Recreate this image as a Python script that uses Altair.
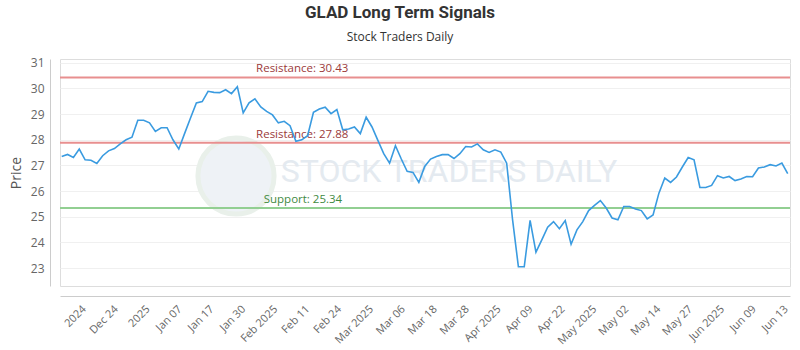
import altair as alt
import pandas as pd

prices = [
    27.35, 27.43, 27.31, 27.64, 27.22, 27.20, 27.08, 27.38, 27.57, 27.66,
    27.84, 28.00, 28.10, 28.76, 28.76, 28.66, 28.33, 28.47, 28.47, 28.00,
    27.64, 28.25, 28.85, 29.44, 29.49, 29.89, 29.85, 29.84, 29.95, 29.80,
    30.07, 29.05, 29.44, 29.60, 29.28, 29.11, 28.97, 28.66, 28.72, 28.55,
    27.94, 28.00, 28.16, 29.07, 29.20, 29.27, 29.02, 29.18, 28.39, 28.42,
    28.50, 28.24, 28.88, 28.50, 27.98, 27.46, 27.09, 27.77, 27.25, 26.77,
    26.73, 26.34, 26.96, 27.25, 27.35, 27.42, 27.42, 27.27, 27.46, 27.74,
    27.72, 27.84, 27.61, 27.51, 27.61, 27.52, 27.09, 24.90, 23.05, 23.05,
    24.86, 23.62, 24.10, 24.59, 24.81, 24.53, 24.85, 23.93, 24.49, 24.81,
    25.24, 25.44, 25.63, 25.34, 24.95, 24.88, 25.40, 25.40, 25.30, 25.24,
    24.92, 25.07, 25.92, 26.51, 26.34, 26.55, 26.94, 27.31, 27.22, 26.14,
    26.14, 26.22, 26.60, 26.51, 26.57, 26.41, 26.47, 26.57, 26.56, 26.90,
    26.94, 27.03, 26.98, 27.09, 26.68,
]

tick_labels = [
    "2024", "Dec 24", "2025", "Jan 07", "Jan 17", "Jan 30", "Feb 2025",
    "Feb 11", "Feb 24", "Mar 2025", "Mar 06", "Mar 18", "Mar 28", "Apr 2025",
    "Apr 09", "Apr 22", "May 2025", "May 02", "May 14", "May 27", "Jun 2025",
    "Jun 09", "Jun 13",
]

level_names = ["Resistance: 30.43", "Resistance: 27.88", "Support: 25.34"]
level_values = [30.43, 27.88, 25.34]
level_kinds = ["Resistance", "Resistance", "Support"]

y_ticks = [23, 24, 25, 26, 27, 28, 29, 30, 31]

# ---- tables built from the arrays above ----
df = pd.DataFrame({"i": list(range(len(prices))), "price": prices})
levels = pd.DataFrame({"label": level_names, "value": level_values, "kind": level_kinds})

# tick layout (index space) -- evenly spaced category labels
t0, tstep = 3.1, 5.45
tick_pos = [round(t0 + tstep * k, 3) for k in range(len(tick_labels))]
label_arr = "[" + ",".join("'" + s + "'" for s in tick_labels) + "]"
label_expr = f"{label_arr}[round((datum.value - {t0}) / {tstep})]"

x_scale = alt.Scale(domain=[-0.29, 124.39], nice=False, zero=False)
y_scale = alt.Scale(domain=[22.3, 31.15], nice=False, zero=False)

x_axis = alt.Axis(
    values=tick_pos, tickCount=100, labelExpr=label_expr, labelAngle=-45, grid=False,
    ticks=False, domainColor="#cccccc", offset=10, labelColor="#666666",
    labelFont="Open Sans", labelFontSize=11, labelPadding=7, title=None,
    labelOverlap=False, labelFlush=False,
)
y_axis = alt.Axis(
    values=y_ticks, tickCount=100, format=".0f", grid=True, gridColor="#f0f0f0",
    ticks=False, domainColor="#cccccc", offset=10, labelColor="#666666",
    labelFont="Open Sans", labelFontSize=12, labelPadding=6, labelOverlap=False,
    title="Price", titleFont="Open Sans", titleFontSize=14, titleFontWeight="normal",
    titleColor="#555555", titlePadding=7,
)

W, H = 730, 227

base_x = alt.X("i:Q", scale=x_scale, axis=x_axis)

# watermark
logo = alt.Chart(df).mark_point(
    shape="circle", filled=True, size=5800, fill="#eef2f6", stroke="#e9f0ea",
    strokeWidth=5, opacity=1,
).encode(x=alt.value(176), y=alt.value(117)).transform_filter("datum.i == 0")

watermark = alt.Chart(df).mark_text(
    text="STOCK TRADERS DAILY", font="Roboto",
    fontSize=32, color="#e4eaf0", align="center", baseline="middle",
).encode(x=alt.value(389), y=alt.value(113)).transform_filter("datum.i == 0")

grid = alt.Chart(df).mark_line(opacity=0).encode(
    x=base_x, y=alt.Y("price:Q", scale=y_scale, axis=y_axis)
)

rules = alt.Chart(levels).mark_rule(strokeWidth=2).encode(
    y=alt.Y("value:Q", scale=y_scale),
    color=alt.Color("kind:N", scale=alt.Scale(domain=["Resistance", "Support"],
                                              range=["#e88f8f", "#92cf92"]), legend=None),
)

level_text = alt.Chart(levels).mark_text(
    align="left", baseline="alphabetic", dy=-5, font="Open Sans", fontSize=11.5,
).transform_calculate(
    xpos="datum.kind == 'Support' ? 34.5 : 33.2"
).encode(
    x=alt.X("xpos:Q", scale=x_scale),
    y=alt.Y("value:Q", scale=y_scale),
    text="label:N",
    color=alt.Color("kind:N", scale=alt.Scale(domain=["Resistance", "Support"],
                                              range=["#9b3a3a", "#3f8a3f"]), legend=None),
)

line = alt.Chart(df).mark_line(color="#3a9be0", strokeWidth=1.6).encode(
    x=base_x, y=alt.Y("price:Q", scale=y_scale)
)

chart = alt.layer(logo, watermark, grid, rules, level_text, line).resolve_scale(
    color="independent"
).properties(
    width=W, height=H,
    title=alt.TitleParams(
        "GLAD Long Term Signals", subtitle="Stock Traders Daily", anchor="middle",
        dx=-25, font="Roboto", fontSize=17, fontWeight="bold", color="#333333",
        subtitleFont="Open Sans", subtitleFontSize=12, subtitleColor="#333333",
        subtitlePadding=10, offset=13,
    ),
    autosize=alt.AutoSizeParams(type="none"),
    padding={"left": 60, "top": 59, "right": 10, "bottom": 64},
).configure_view(stroke="#888888", strokeWidth=1).configure(background="white")

chart.save("out.html", embed_options={"renderer": "svg", "actions": False})
